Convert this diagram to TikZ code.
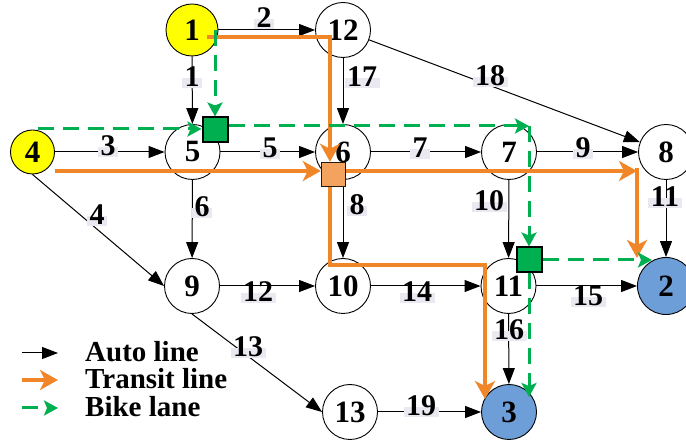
\documentclass[tikz,border=0pt]{standalone}
\usepackage{fontspec}
\setmainfont{Liberation Serif}
\usetikzlibrary{arrows.meta}
\definecolor{ornge}{RGB}{240,134,40}
\definecolor{sqorange}{RGB}{244,163,94}
\definecolor{grn}{RGB}{0,176,80}
\definecolor{blu}{RGB}{110,158,216}
\definecolor{ylw}{RGB}{255,255,0}
\definecolor{lblbg}{RGB}{234,233,241}
\pgfdeclarelayer{fg}
\pgfsetlayers{main,fg}
\begin{document}
\begin{tikzpicture}[x=1pt,y=-1pt,
  city/.style={circle,draw=black,line width=0.9pt,fill=white,minimum size=55pt,inner sep=0pt,font=\fontsize{31}{31}\selectfont\bfseries},
  elabel/.style={fill=lblbg,inner xsep=2.5pt,inner ysep=2pt,font=\fontsize{30}{30}\selectfont\bfseries,text height=0.66em,text depth=0pt},
  autoedge/.style={draw=black,line width=1pt,-{Triangle[length=16pt,width=12pt]}},
  transit/.style={draw=ornge,line width=4.5pt,-{Stealth[length=18pt,width=20pt,inset=5pt]}},
  bike/.style={draw=grn,line width=3pt,dash pattern=on 16pt off 9pt,-{Stealth[length=14pt,width=15pt,inset=3pt]}},
  gsquare/.style={draw=black,line width=2pt,minimum size=25pt,inner sep=0pt,fill=grn},
  osquare/.style={draw=black!80!brown,line width=1.5pt,minimum size=24pt,inner sep=0pt,fill=sqorange},
  legendtext/.style={anchor=base west,font=\fontsize{29}{29}\selectfont\bfseries,inner sep=0pt}
]
\useasboundingbox (0,0) rectangle (686,443);

% transfer squares (drawn on top)
\begin{pgfonlayer}{fg}
\node[gsquare] (sq5) at (215,130) {};
\node[osquare] (sq6) at (333.5,174.5) {};
\node[gsquare] (sq11) at (529,260) {};
\end{pgfonlayer}

% cities
\node[city,fill=ylw,minimum size=52pt] (n1) at (192,30) {1};
\node[city] (n12) at (343,30) {12};
\node[city,fill=ylw,minimum size=44pt] (n4) at (32.5,152) {4};
\node[city] (n5) at (192.5,152) {5};
\node[city] (n6) at (343,152) {6};
\node[city] (n7) at (509,152) {7};
\node[city] (n8) at (666,152) {8};
\node[city] (n9) at (192,286) {9};
\node[city] (n10) at (343,286) {10};
\node[city] (n11) at (508.5,286) {11};
\node[city,fill=blu,minimum size=57pt] (n2) at (666,286) {2};
\node[city] (n13) at (350,412) {13};
\node[city,fill=blu] (n3) at (509,412) {3};

% auto lines
\draw[autoedge] (n1) -- (n5);
\draw[autoedge] (n1) -- (n12);
\draw[autoedge] (n12) -- (n6);
\draw[autoedge] (n12) -- (n8);
\draw[autoedge] (n4) -- (n5);
\draw[autoedge] (n5) -- (n6);
\draw[autoedge] (n6) -- (n7);
\draw[autoedge] (n7) -- (n8);
\draw[autoedge] (n4.south) -- (n9.west);
\draw[autoedge] (n5) -- (n9);
\draw[autoedge] (n6) -- (n10);
\draw[autoedge] (n7) -- (n11);
\draw[autoedge] (n8) -- (n2);
\draw[autoedge] (n9) -- (n10);
\draw[autoedge] (n10) -- (n11);
\draw[autoedge] (n11) -- (n2);
\draw[autoedge] (n9.south) -- (n13.west);
\draw[autoedge] (n11) -- (n3);
\draw[autoedge] (n13) -- (n3);

% edge labels
\node[elabel] (e1) at (192,83) {1};
\node[elabel] (e2) at (264,24) {2};
\node[elabel] (e17) at (362,83) {17};
\node[elabel] (e18) at (490,82) {18};
\node[elabel] (e3) at (108,152) {3};
\node[elabel] (e5) at (270,154) {5};
\node[elabel] (e7) at (420,154) {7};
\node[elabel] (e9) at (583,154) {9};
\node[elabel] (e4) at (97,221) {4};
\node[elabel] (e6) at (202,213) {6};
\node[elabel] (e8) at (357,211) {8};
\node[elabel] (e10) at (489,207) {10};
\node[elabel] (e11) at (665,203) {11};
\node[elabel] (e12) at (258,298) {12};
\node[elabel] (e14) at (417,298) {14};
\node[elabel] (e15) at (588,302) {15};
\node[elabel] (e13) at (248,353) {13};
\node[elabel] (e16) at (509,336) {16};
\node[elabel] (e19) at (421,412) {19};

% transit lines
\coordinate (o1s) at (207,37);
\coordinate (o1c) at (330,37);
\coordinate (o4s) at (55,171);
\coordinate (ot1) at (330,265);
\coordinate (ot2) at (485,265);
\coordinate (ot3) at (485,399);
\coordinate (oc2) at (637,171);
\coordinate (oc2b) at (637,168);
\coordinate (oe2) at (637,258);
\draw[transit] (o1s) -- (o1c) -- (o1c |- sq6.north);
\draw[transit] (o4s) -- (o4s -| sq6.west);
\draw[transit] (o1c |- sq6.south) -- (ot1) -- (ot2) -- (ot3);
\draw[transit] (sq6.east |- oc2) -- (oc2);
\draw[transit] (oc2b) -- (oe2);

% bike lanes
\coordinate (g1s) at (215,30);
\coordinate (g4s) at (38,129);
\coordinate (gc) at (529,126);
\coordinate (ge2) at (652,260);
\coordinate (ge3) at (529,397);
\draw[bike] (g1s) -- (g1s |- sq5.north);
\draw[bike] (g4s) -- (g4s -| sq5.west);
\draw[bike] (sq5.east |- gc) -- (gc);
\draw[bike] (gc) -- (gc |- sq11.north);
\draw[bike] (sq11.east) -- (ge2);
\draw[bike] (sq11.south) -- (ge3);

% legend
\coordinate (la1) at (22,353);
\coordinate (la2) at (58,353);
\coordinate (lb1) at (22,380);
\coordinate (lb2) at (58,380);
\coordinate (lc1) at (22,408);
\coordinate (lc2) at (58,408);
\draw[autoedge] (la1) -- (la2);
\draw[transit] (lb1) -- (lb2);
\draw[bike] (lc1) -- (lc2);
\node[legendtext] (lt1) at (85,362) {Auto line};
\node[legendtext] (lt2) at (85,389) {Transit line};
\node[legendtext] (lt3) at (85,417) {Bike lane};
\end{tikzpicture}
\end{document}
